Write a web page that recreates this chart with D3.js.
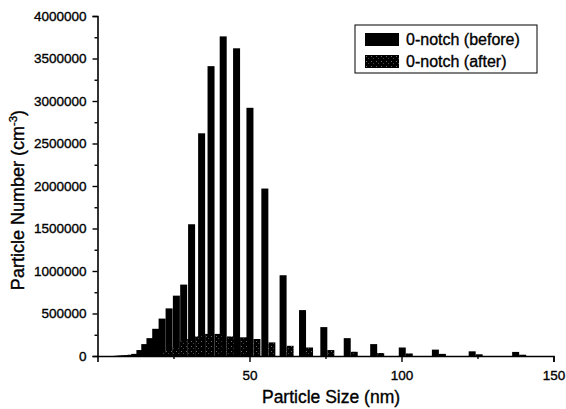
<!DOCTYPE html>
<html>
<head>
<meta charset="utf-8">
<script src="https://cdn.jsdelivr.net/npm/d3@7"></script>
<style>
  html, body { margin: 0; padding: 0; background: #fff; }
  svg { display: block; }
  text { font-family: "Liberation Sans", Arial, sans-serif; fill: #000; stroke: #000; stroke-width: 0.35px; }
</style>
</head>
<body>
<svg id="chart" width="566" height="409"></svg>
<script>
// ---- Data ----
const sizes = [7.6, 8.4, 9.2, 10.1, 11.1, 12.2, 13.4, 15.1, 16.7, 18.4, 20.3, 22.4, 24.7, 27.1, 29.5,
               32.1, 35.4, 38.5, 42.5, 46.9, 51.3, 56.2, 62.2, 68.6, 75.6, 83.3, 92.0, 101.4, 112.3, 124.4, 138.7];
const before = [2000, 3000, 5000, 7000, 10000, 15000, 25000, 70000, 140000, 210000, 320000, 440000, 560000, 710000, 840000,
                1550000, 2620000, 3410000, 3760000, 3620000, 2920000, 1970000, 950000, 540000, 340000, 210000, 140000, 100000, 75000, 55000, 48000];
const after = [500, 800, 1000, 1500, 2000, 3000, 5000, 8000, 15000, 25000, 40000, 65000, 100000, 170000, 200000,
               230000, 260000, 260000, 230000, 220000, 200000, 160000, 120000, 100000, 70000, 50000, 35000, 30000, 25000, 20000, 15000];
const seriesNames = ["0-notch (before)", "0-notch (after)"];
const xTicks = [50, 100, 150];
const xMinorTicks = [25, 75, 125];
const yTicks = [0, 500000, 1000000, 1500000, 2000000, 2500000, 3000000, 3500000, 4000000];
const yMinorTicks = [250000, 750000, 1250000, 1750000, 2250000, 2750000, 3250000, 3750000];

// ---- Layout ----
const svg = d3.select("#chart");
const x = d3.scaleLinear().domain([0, 150]).range([97.5, 553.5]);
const y = d3.scaleLinear().domain([0, 4000000]).range([356, 16]);
const barW = 7;

// pattern for "after" bars (dark with faint speckles)
const defs = svg.append("defs");
const pat = defs.append("pattern").attr("id", "speck").attr("patternUnits", "userSpaceOnUse")
  .attr("width", 5).attr("height", 5);
pat.append("rect").attr("width", 5).attr("height", 5).attr("fill", "#000");
pat.append("rect").attr("x", 1).attr("y", 1).attr("width", 1).attr("height", 1).attr("fill", "#6a6a6a");
pat.append("rect").attr("x", 3).attr("y", 3).attr("width", 1).attr("height", 1).attr("fill", "#444");

const data = sizes.map((s, i) => ({ s, b: before[i], a: after[i] }));

// before bars
svg.append("g").selectAll("rect").data(data).join("rect")
  .attr("x", d => x(d.s) - barW)
  .attr("y", d => y(d.b))
  .attr("width", barW)
  .attr("height", d => y(0) - y(d.b))
  .attr("fill", "#000");

// after bars
svg.append("g").selectAll("rect").data(data).join("rect")
  .attr("x", d => x(d.s))
  .attr("y", d => y(d.a))
  .attr("width", barW)
  .attr("height", d => y(0) - y(d.a))
  .attr("fill", "url(#speck)");

// ---- Axes ----
svg.append("g").attr("transform", `translate(0,${y(0)})`)
  .call(d3.axisBottom(x).tickValues(xTicks).tickSize(6).tickPadding(8).tickFormat(d3.format("d")));
svg.append("g").attr("transform", `translate(0,${y(0)})`)
  .call(d3.axisBottom(x).tickValues(xMinorTicks).tickSize(3).tickFormat(""))
  .select(".domain").remove();

svg.append("g").attr("transform", `translate(${x(0)},0)`)
  .call(d3.axisLeft(y).tickValues(yTicks).tickSize(5).tickPadding(6).tickFormat(d3.format("d")));
svg.append("g").attr("transform", `translate(${x(0)},0)`)
  .call(d3.axisLeft(y).tickValues(yMinorTicks).tickSize(3).tickFormat(""))
  .select(".domain").remove();

svg.selectAll(".domain").attr("stroke", "#000").attr("stroke-width", 1.6);
svg.selectAll(".tick line").attr("stroke", "#000").attr("stroke-width", 1.4);
svg.selectAll(".tick text").attr("font-size", 13.5).attr("font-family", "Liberation Sans, Arial, sans-serif")
  .attr("fill", "#000").attr("stroke", "#000").attr("stroke-width", 0.35);

// ---- Titles ----
svg.append("text").attr("x", 331).attr("y", 403).attr("text-anchor", "middle")
  .attr("font-size", 17.5).text("Particle Size (nm)");

const yt = svg.append("text").attr("transform", "translate(24,200) rotate(-90)")
  .attr("text-anchor", "middle").attr("font-size", 18);
yt.append("tspan").text("Particle Number (cm");
yt.append("tspan").attr("font-size", 11.5).attr("dy", -7).text("-3");
yt.append("tspan").attr("dy", 7).text(")");

// ---- Legend ----
const lg = svg.append("g");
lg.append("rect").attr("x", 355).attr("y", 25).attr("width", 182).attr("height", 48)
  .attr("fill", "#fff").attr("stroke", "#000").attr("stroke-width", 1);
const fills = ["#000", "url(#speck)"];
seriesNames.forEach((n, i) => {
  lg.append("rect").attr("x", 365).attr("y", 33 + i * 22).attr("width", 34).attr("height", 13).attr("fill", fills[i]);
  lg.append("text").attr("x", 406).attr("y", 45 + i * 22).attr("font-size", 16).text(n);
});
</script>
</body>
</html>
